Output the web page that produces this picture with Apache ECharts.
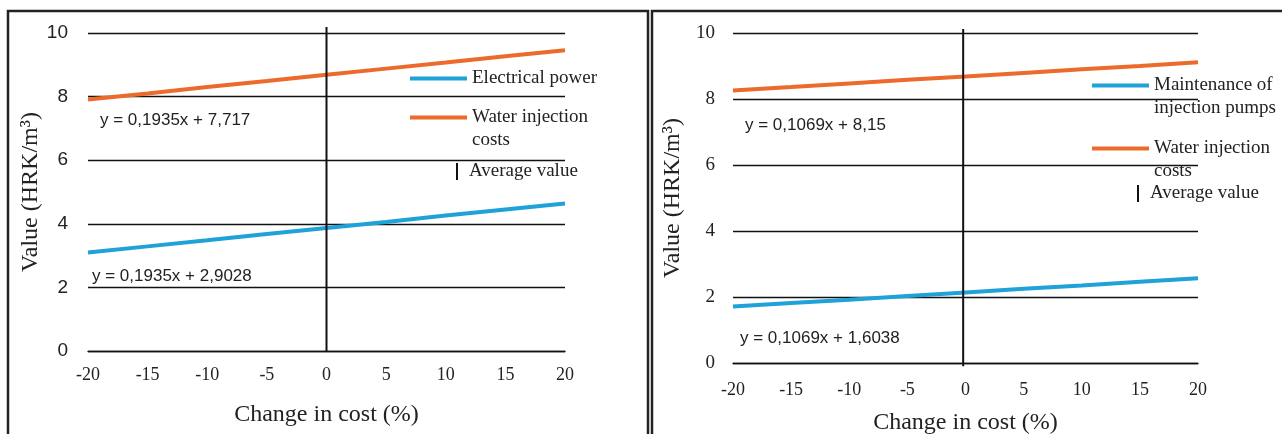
<!DOCTYPE html>
<html>
<head>
<meta charset="utf-8">
<script src="https://cdn.jsdelivr.net/npm/echarts@6/dist/echarts.min.js"></script>
<style>
  html, body { margin: 0; padding: 0; background: #fff; }
  #chart { width: 1282px; height: 434px; }
</style>
</head>
<body>
<div id="chart"></div>
<script>
// values (x = change in cost, %)
var xValues = [-20, -15, -10, -5, 0, 5, 10, 15, 20];
var yTicks = [0, 2, 4, 6, 8, 10];

// left panel
var powerValues = [3.10, 3.29, 3.48, 3.68, 3.87, 4.06, 4.26, 4.45, 4.64];
var waterLeftValues = [7.91, 8.10, 8.30, 8.49, 8.69, 8.88, 9.07, 9.27, 9.46];
var averageLeft = [[0, 0], [0, 10.19]];

// right panel
var pumpValues = [1.71, 1.82, 1.92, 2.03, 2.14, 2.25, 2.35, 2.46, 2.57];
var waterRightValues = [8.26, 8.36, 8.47, 8.58, 8.68, 8.79, 8.90, 9.00, 9.11];
var averageRight = [[-0.2, -0.1], [-0.2, 10.12]];

var equations = {
    waterLeft: 'y = 0,1935x + 7,717',
    powerLeft: 'y = 0,1935x + 2,9028',
    waterRight: 'y = 0,1069x + 8,15',
    pumpRight: 'y = 0,1069x + 1,6038'
};

var BLUE = '#1fa2d8';
var ORANGE = '#ec6a2b';
var SERIF = '"Liberation Serif", "Times New Roman", serif';
var SANS = '"Liberation Sans", Arial, sans-serif';

function pairs(ys) {
    return xValues.map(function (x, i) { return [x, ys[i]]; });
}

function makeX(gridIndex, labelMargin, nameGap) {
    return {
        type: 'value',
        gridIndex: gridIndex,
        min: xValues[0],
        max: xValues[xValues.length - 1],
        interval: 5,
        name: 'Change in cost (%)',
        nameLocation: 'middle',
        nameGap: nameGap,
        nameTextStyle: { fontFamily: SERIF, fontSize: 24, color: '#222' },
        axisLine: { show: true, lineStyle: { color: '#111', width: 1.3 } },
        axisTick: { show: false },
        splitLine: { show: false },
        axisLabel: { fontFamily: SERIF, fontSize: 18, color: '#222', margin: labelMargin }
    };
}

function makeY(gridIndex, labelFont, labelMargin, nameGap) {
    return {
        type: 'value',
        gridIndex: gridIndex,
        min: yTicks[0],
        max: yTicks[yTicks.length - 1],
        interval: 2,
        name: 'Value (HRK/m³)',
        nameLocation: 'middle',
        nameGap: nameGap,
        nameTextStyle: { fontFamily: SERIF, fontSize: 24, color: '#222' },
        axisLine: { show: false },
        axisTick: { show: false },
        splitLine: { show: true, lineStyle: { color: '#111', width: 1.3 } },
        axisLabel: { fontFamily: labelFont, fontSize: 19, color: '#222', margin: labelMargin }
    };
}

function lineSeries(name, idx, data, color) {
    return {
        name: name,
        type: 'line',
        xAxisIndex: idx,
        yAxisIndex: idx,
        data: data,
        showSymbol: false,
        symbol: 'none',
        lineStyle: { color: color, width: 4 },
        itemStyle: { color: color },
        silent: true
    };
}

function averageSeries(idx, data) {
    return {
        name: 'Average value',
        type: 'line',
        xAxisIndex: idx,
        yAxisIndex: idx,
        data: data,
        symbol: 'none',
        clip: false,
        lineStyle: { color: '#111', width: 2 },
        itemStyle: { color: '#111' },
        silent: true
    };
}

function legendLine(name, left, top) {
    return {
        data: [{ name: name, icon: 'rect' }],
        left: left,
        top: top,
        padding: 0,
        itemWidth: 57,
        itemHeight: 4,
        selectedMode: false,
        textStyle: { fontFamily: SERIF, fontSize: 19, color: '#222', lineHeight: 23 }
    };
}

// two-line names: a blank first line keeps the icon level with the first text line
function legendTwoLines(name, left, top) {
    var l = legendLine(name, left, top);
    l.formatter = function (n) { return ' \n' + n; };
    return l;
}

function legendAverage(left, top) {
    return {
        data: [{ name: 'Average value', icon: 'rect' }],
        left: left,
        top: top,
        padding: 0,
        itemWidth: 2,
        itemHeight: 17,
        selectedMode: false,
        textStyle: { fontFamily: SERIF, fontSize: 19, color: '#222', padding: [0, 0, 0, 6] }
    };
}

function eqText(text, x, y) {
    return {
        type: 'text',
        x: x,
        y: y,
        silent: true,
        style: { text: text, font: '17px ' + SANS, fill: '#222', verticalAlign: 'middle' }
    };
}

var chart = echarts.init(document.getElementById('chart'), null, { renderer: 'canvas' });

var option = {
    animation: false,
    backgroundColor: '#fff',
    grid: [
        { left: 88, top: 33, width: 477, height: 318, outerBoundsMode: 'none' },
        { left: 733, top: 33, width: 465, height: 330, outerBoundsMode: 'none' }
    ],
    xAxis: [makeX(0, 15, 52), makeX(1, 18, 48)],
    yAxis: [makeY(0, SANS, 20, 45), makeY(1, SERIF, 18, 48)],
    legend: [
        legendLine('Electrical power', 410, 67),
        legendTwoLines('Water injection\ncosts', 410, 83),
        legendAverage(456, 162),
        legendTwoLines('Maintenance of\ninjection pumps', 1092, 51),
        legendTwoLines('Water injection\ncosts', 1092, 114),
        legendAverage(1137, 184)
    ],
    graphic: [
        { type: 'rect', shape: { x: 8, y: 11, width: 640, height: 440 }, style: { fill: null, stroke: '#222', lineWidth: 2.5 }, silent: true },
        { type: 'rect', shape: { x: 652, y: 11, width: 640, height: 440 }, style: { fill: null, stroke: '#222', lineWidth: 2.5 }, silent: true },
        eqText(equations.waterLeft, 100, 120),
        eqText(equations.powerLeft, 92, 276),
        eqText(equations.waterRight, 745, 125),
        eqText(equations.pumpRight, 740, 338)
    ],
    series: [
        lineSeries('Electrical power', 0, pairs(powerValues), BLUE),
        lineSeries('Water injection\ncosts', 0, pairs(waterLeftValues), ORANGE),
        averageSeries(0, averageLeft),
        lineSeries('Maintenance of\ninjection pumps', 1, pairs(pumpValues), BLUE),
        lineSeries('Water injection\ncosts', 1, pairs(waterRightValues), ORANGE),
        averageSeries(1, averageRight)
    ]
};

chart.setOption(option);
</script>
</body>
</html>
